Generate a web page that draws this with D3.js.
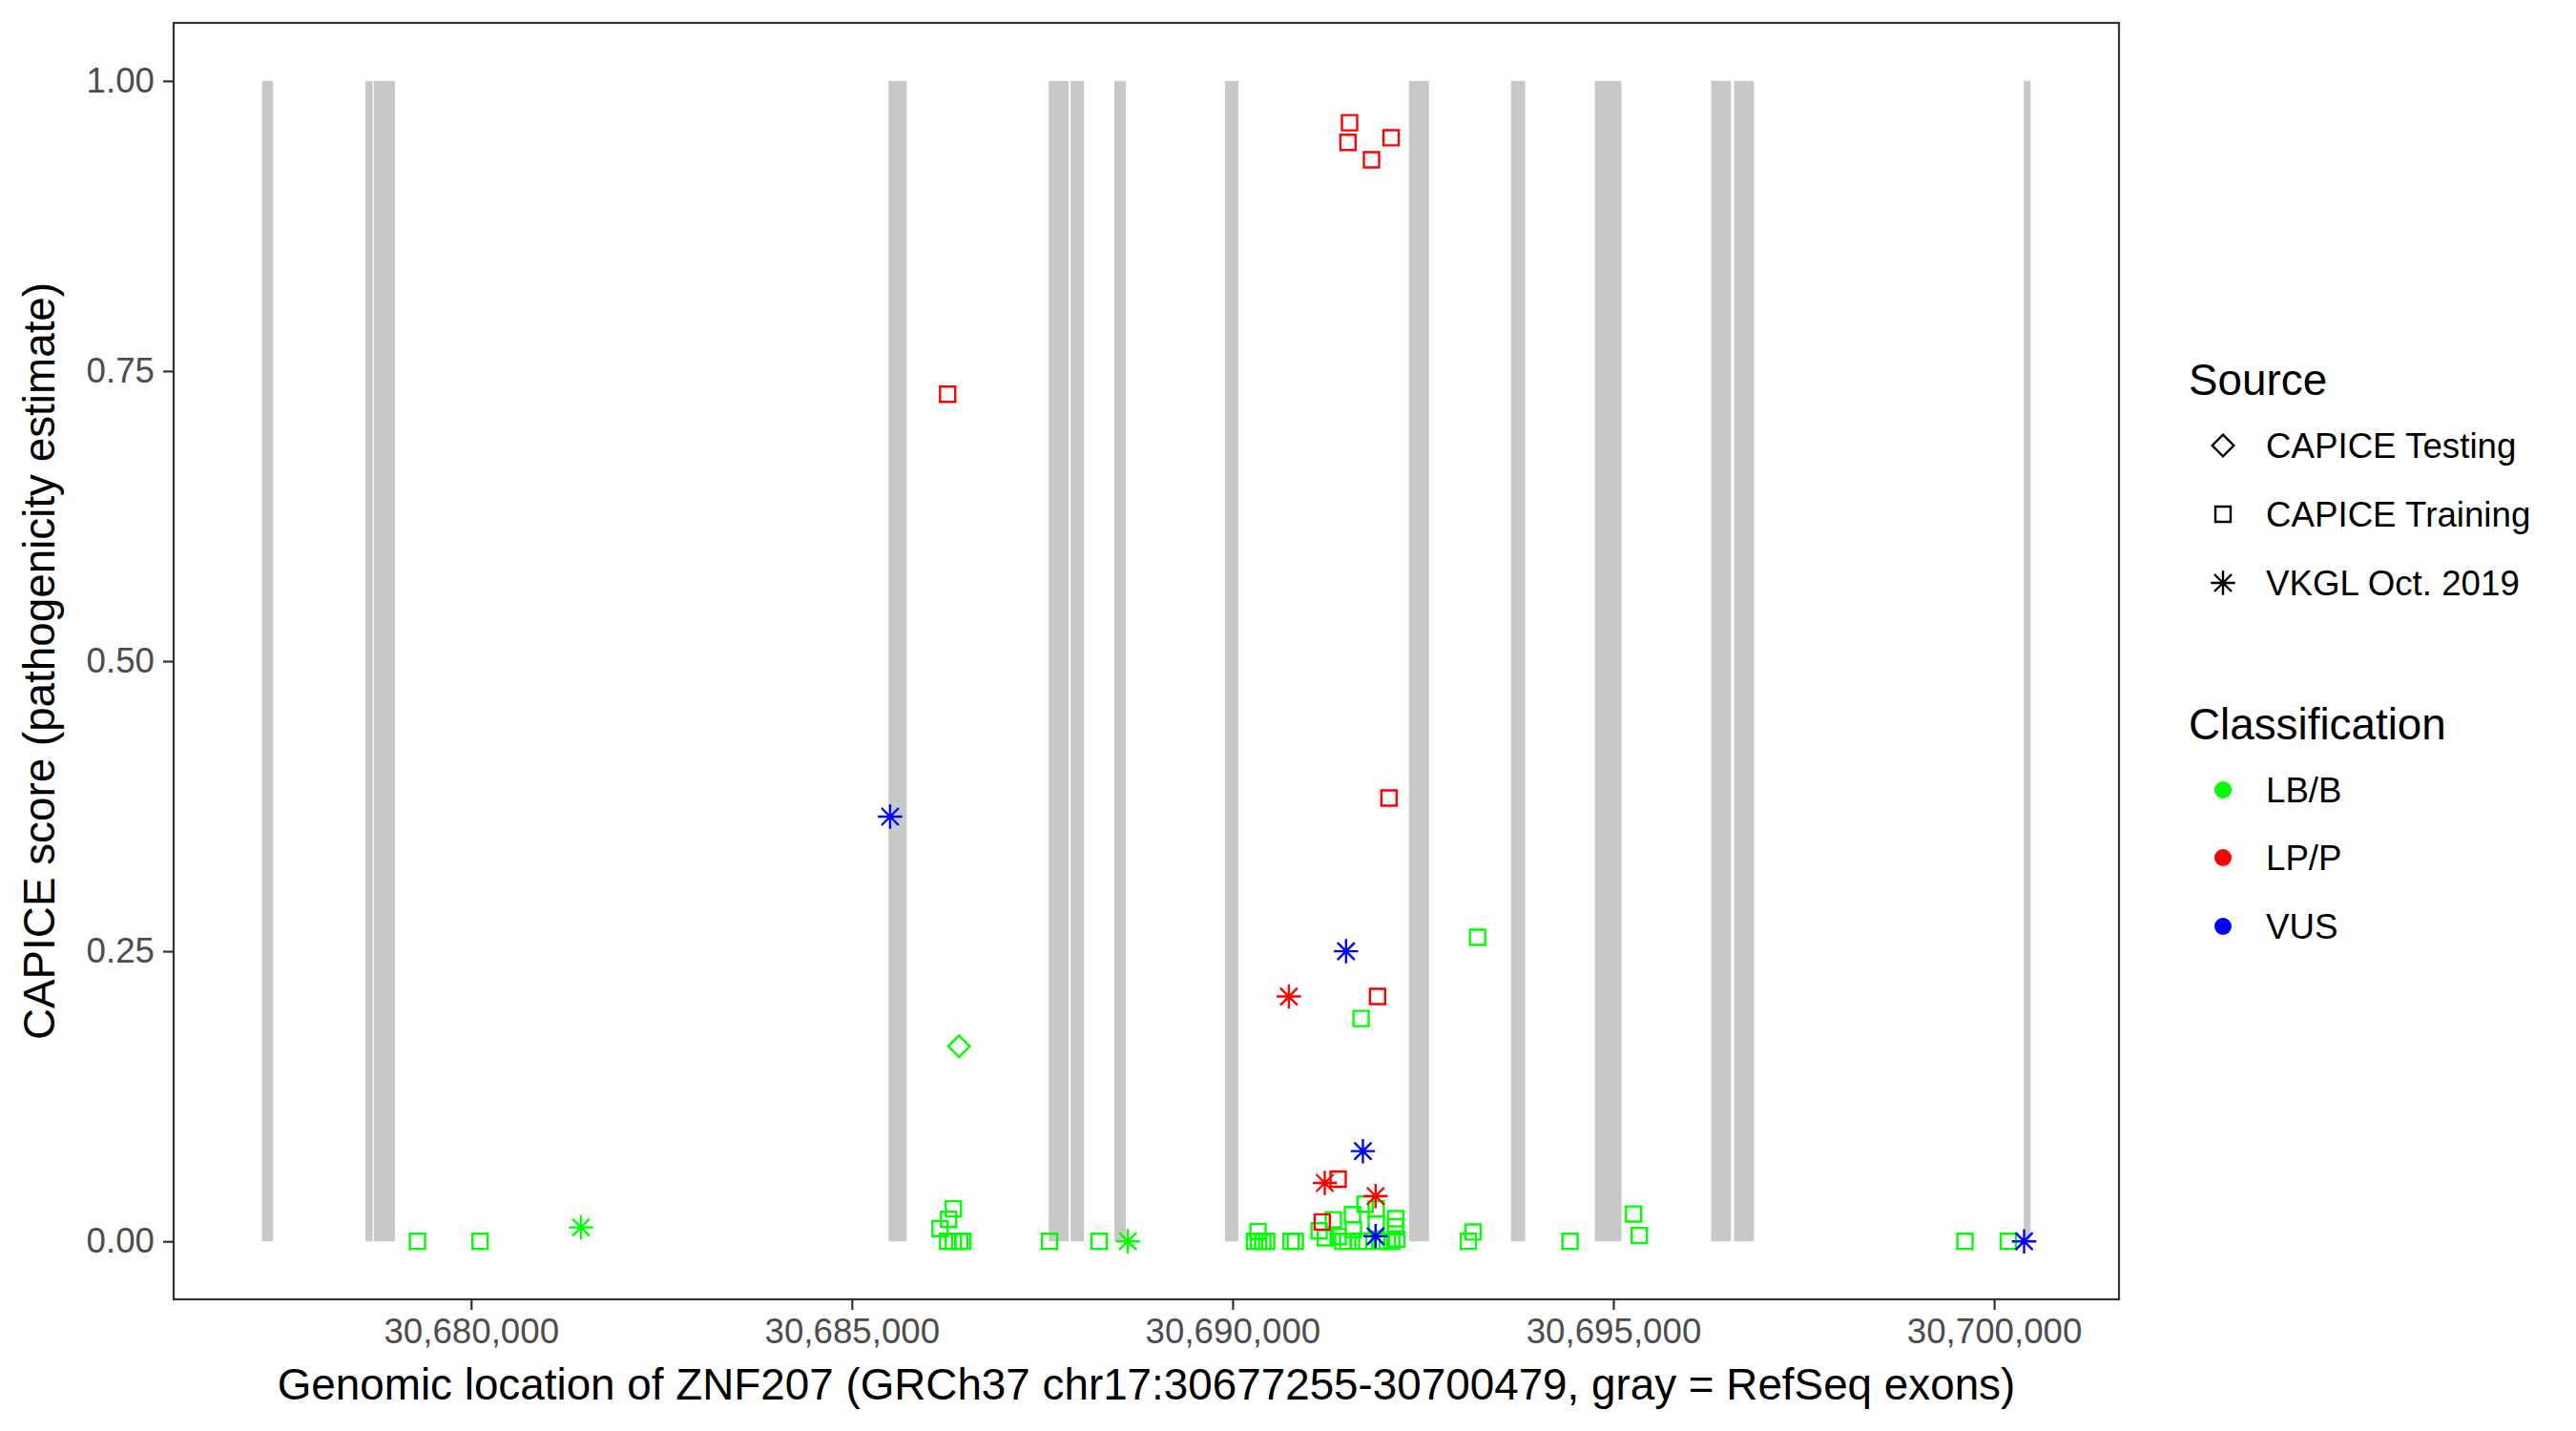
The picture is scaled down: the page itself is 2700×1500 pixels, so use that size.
<!DOCTYPE html>
<html>
<head>
<meta charset="utf-8">
<script src="https://cdn.jsdelivr.net/npm/d3@7"></script>
<style>
  html, body { margin: 0; padding: 0; background: #fff; }
  svg text { font-family: "Liberation Sans", Arial, Helvetica, sans-serif; }
</style>
</head>
<body>
<svg id="chart" width="2700" height="1500"></svg>
<script>
// ---------------- DATA ----------------
const geneRange = [30677255, 30700479];

// RefSeq exons: start, end (bp)
const exonStart = [30677255, 30678611, 30678723, 30685482, 30687585, 30687873, 30688448, 30689900, 30692316, 30693655, 30694756, 30696283, 30696584, 30700389];
const exonEnd   = [30677400, 30678707, 30678999, 30685720, 30687848, 30688048, 30688598, 30690075, 30692579, 30693843, 30695107, 30696546, 30696847, 30700479];

// Variants: position, CAPICE score, source, classification
const varPos = [
  // LB/B, CAPICE Training
  30679295, 30680118, 30686158, 30686271, 30686333, 30686258, 30686333, 30686416, 30686458, 30687597,
  30688248, 30690288, 30690334, 30690342, 30690397, 30690447, 30690768, 30690823, 30691136, 30691218,
  30691323, 30691386, 30691448, 30691511, 30691574, 30691586, 30691656, 30691740, 30691761, 30691886,
  30691886, 30691928, 30692032, 30692090, 30692137, 30692144, 30692157, 30691687, 30693096, 30693158,
  30693217, 30694431, 30695266, 30695341, 30699618, 30700187,
  // LB/B, CAPICE Testing
  30686408,
  // LB/B, VKGL
  30681443, 30688624,
  // LP/P, CAPICE Training
  30686258, 30691536, 30691515, 30692082, 30691824, 30692054, 30691903, 30691386, 30691177,
  // LP/P, VKGL
  30690739, 30691211, 30691878,
  // VUS, VKGL
  30685502, 30691490, 30691711, 30691878, 30700394
];
const varScore = [
  0, 0, 0.011, 0.019, 0.028, 0, 0, 0, 0, 0,
  0, 0, 0.0085, 0, 0, 0, 0, 0, 0.009, 0.003,
  0.0186, 0.004, 0, 0, 0.023, 0.010, 0, 0.032, 0, 0.028,
  0.015, 0, 0, 0, 0.0126, 0.0195, 0.002, 0.192, 0, 0.008,
  0.262, 0, 0.0235, 0.005, 0, 0,
  0.168,
  0.012, 0,
  0.730, 0.964, 0.947, 0.951, 0.932, 0.382, 0.211, 0.0536, 0.0167,
  0.211, 0.0503, 0.039,
  0.366, 0.250, 0.0777, 0.0044, 0
];
const varSource = [].concat(
  Array(46).fill("CAPICE Training"),
  ["CAPICE Testing"],
  Array(2).fill("VKGL Oct. 2019"),
  Array(9).fill("CAPICE Training"),
  Array(3).fill("VKGL Oct. 2019"),
  Array(5).fill("VKGL Oct. 2019")
);
const varClass = [].concat(
  Array(49).fill("LB/B"),
  Array(12).fill("LP/P"),
  Array(5).fill("VUS")
);

const sourceLevels = ["CAPICE Testing", "CAPICE Training", "VKGL Oct. 2019"];
const classLevels = ["LB/B", "LP/P", "VUS"];
const classColors = ["#00FF00", "#FF0000", "#0000FF"];

const xTicks = [30680000, 30685000, 30690000, 30695000, 30700000];
const yTicks = [0, 0.25, 0.5, 0.75, 1.0];

const xTitle = "Genomic location of ZNF207 (GRCh37 chr17:30677255-30700479, gray = RefSeq exons)";
const yTitle = "CAPICE score (pathogenicity estimate)";

// ---------------- LAYOUT ----------------
const panel = { left: 182, right: 2221, top: 24, bottom: 1362 };
const svg = d3.select("#chart");

const pad = (geneRange[1] - geneRange[0]) * 0.05;
const x = d3.scaleLinear().domain([geneRange[0] - pad, geneRange[1] + pad]).range([panel.left, panel.right]);
const y = d3.scaleLinear().domain([-0.05, 1.05]).range([panel.bottom, panel.top]);
const color = d3.scaleOrdinal().domain(classLevels).range(classColors);

const R = 9; // base symbol radius
function shapePath(src) {
  if (src === "CAPICE Training") {
    const s = R * 0.886;
    return `M${-s},${-s}H${s}V${s}H${-s}Z`;
  } else if (src === "CAPICE Testing") {
    const d = R * 1.253;
    return `M0,${-d}L${d},0L0,${d}L${-d},0Z`;
  } else {
    const p = R * Math.SQRT2, q = R;
    return `M${-p},0H${p}M0,${-p}V${p}M${-q},${-q}L${q},${q}M${-q},${q}L${q},${-q}`;
  }
}

// exons
const exons = exonStart.map((s, i) => ({ s, e: exonEnd[i] }));
svg.append("g").selectAll("rect").data(exons).join("rect")
  .attr("x", d => x(d.s))
  .attr("width", d => Math.max(1, x(d.e) - x(d.s)))
  .attr("y", y(1))
  .attr("height", y(0) - y(1))
  .attr("fill", "#C8C8C8");

// points
const pts = varPos.map((p, i) => ({ p, v: varScore[i], src: varSource[i], cls: varClass[i] }));
svg.append("g").selectAll("path").data(pts).join("path")
  .attr("transform", d => `translate(${x(d.p)},${y(d.v)})`)
  .attr("d", d => shapePath(d.src))
  .attr("fill", "none")
  .attr("stroke", d => color(d.cls))
  .attr("stroke-width", 2.4);

// panel border
svg.append("rect")
  .attr("x", panel.left).attr("y", panel.top)
  .attr("width", panel.right - panel.left).attr("height", panel.bottom - panel.top)
  .attr("fill", "none").attr("stroke", "#333333").attr("stroke-width", 2.2);

// axes
const xAxis = svg.append("g").attr("transform", `translate(0,${panel.bottom})`)
  .call(d3.axisBottom(x).tickValues(xTicks).tickFormat(d3.format(",")).tickSize(11).tickPadding(9));
const yAxis = svg.append("g").attr("transform", `translate(${panel.left},0)`)
  .call(d3.axisLeft(y).tickValues(yTicks).tickFormat(d3.format(".2f")).tickSize(11).tickPadding(9));
[xAxis, yAxis].forEach(a => {
  a.select(".domain").remove();
  a.selectAll(".tick line").attr("stroke", "#333333").attr("stroke-width", 2.2);
  a.selectAll(".tick text").attr("fill", "#4D4D4D").attr("font-size", 36.7)
    .attr("font-family", "'Liberation Sans', Arial, sans-serif");
});

// axis titles
svg.append("text")
  .attr("x", (panel.left + panel.right) / 2).attr("y", 1467)
  .attr("text-anchor", "middle").attr("font-size", 45.8).attr("fill", "#000")
  .text(xTitle);
svg.append("text")
  .attr("transform", `translate(57,${(panel.top + panel.bottom) / 2}) rotate(-90)`)
  .attr("text-anchor", "middle").attr("font-size", 45.8).attr("fill", "#000")
  .text(yTitle);

// legends
const lg = svg.append("g");
lg.append("text").attr("x", 2294).attr("y", 414).attr("font-size", 45.8).text("Source");
const srcY = [467, 539, 611];
sourceLevels.forEach((s, i) => {
  lg.append("path").attr("transform", `translate(2330,${srcY[i]})`)
    .attr("d", shapePath(s)).attr("fill", "none").attr("stroke", "#000").attr("stroke-width", 2.4);
  lg.append("text").attr("x", 2375).attr("y", srcY[i]).attr("dy", "0.35em")
    .attr("font-size", 36.7).text(s);
});
lg.append("text").attr("x", 2294).attr("y", 775).attr("font-size", 45.8).text("Classification");
const clsY = [828, 899, 971];
classLevels.forEach((c, i) => {
  lg.append("circle").attr("cx", 2330).attr("cy", clsY[i]).attr("r", R)
    .attr("fill", color(c));
  lg.append("text").attr("x", 2375).attr("y", clsY[i]).attr("dy", "0.35em")
    .attr("font-size", 36.7).text(c);
});
</script>
</body>
</html>
